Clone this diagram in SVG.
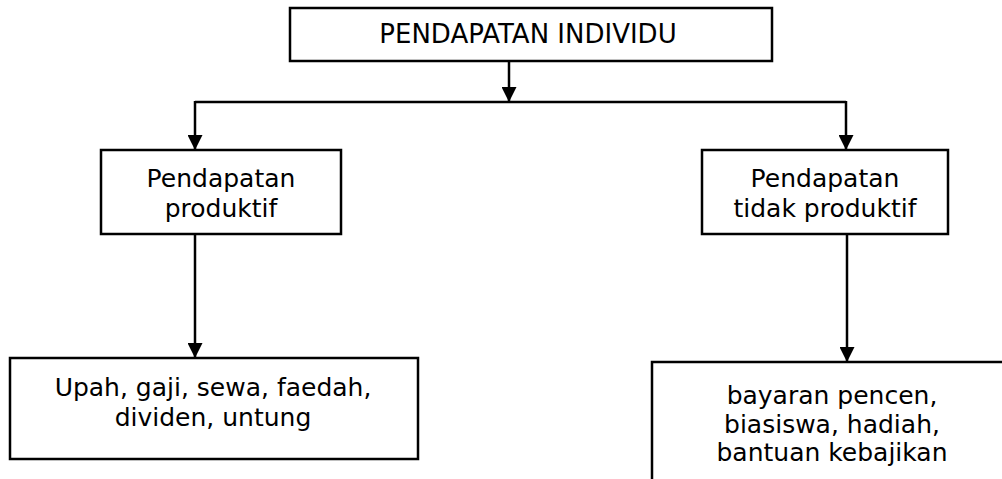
<svg xmlns="http://www.w3.org/2000/svg" width="1002" height="479" viewBox="0 0 1002 479">
<style>
.box{fill:#fff;stroke:#000;stroke-width:2.5}
.t{font-family:"DejaVu Sans","Liberation Sans",sans-serif;font-size:25px;fill:#000;text-anchor:middle}
.c{fill:none;stroke:#000;stroke-width:2.5}
</style>
<defs>
<marker id="ah" markerWidth="15" markerHeight="15" refX="15" refY="7.5" orient="auto" markerUnits="userSpaceOnUse">
<path d="M0,0 L15,7.5 L0,15 Z" fill="#000"/>
</marker>
</defs>
<rect width="1002" height="479" fill="#fff"/>
<g id="n-top">
<rect class="box" x="290" y="8" width="482" height="53"/>
<text class="t" x="528" y="43" style="font-size:26px">PENDAPATAN INDIVIDU</text>
</g>
<g id="n-prod">
<rect class="box" x="101" y="150" width="240" height="84"/>
<text class="t" x="221" y="187">Pendapatan</text>
<text class="t" x="221" y="217">produktif</text>
</g>
<g id="n-tidak">
<rect class="box" x="702" y="150" width="246" height="84"/>
<text class="t" x="825" y="187">Pendapatan</text>
<text class="t" x="825" y="217">tidak produktif</text>
</g>
<g id="n-upah">
<rect class="box" x="10" y="358" width="408" height="101"/>
<text class="t" x="213" y="396">Upah, gaji, sewa, faedah,</text>
<text class="t" x="213" y="426">dividen, untung</text>
</g>
<g id="n-bayaran">
<path class="box" d="M652,480 V362 H1004"/>
<text class="t" x="832" y="404">bayaran pencen,</text>
<text class="t" x="832" y="433">biasiswa, hadiah,</text>
<text class="t" x="832" y="461">bantuan kebajikan</text>
</g>
<g id="connectors">
<path class="c" d="M509,61 V102" marker-end="url(#ah)"/>
<path class="c" d="M195,102 H846"/>
<path class="c" d="M195,101 V150" marker-end="url(#ah)"/>
<path class="c" d="M846,101 V150" marker-end="url(#ah)"/>
<path class="c" d="M195,234 V358" marker-end="url(#ah)"/>
<path class="c" d="M847,234 V362" marker-end="url(#ah)"/>
</g>
</svg>
